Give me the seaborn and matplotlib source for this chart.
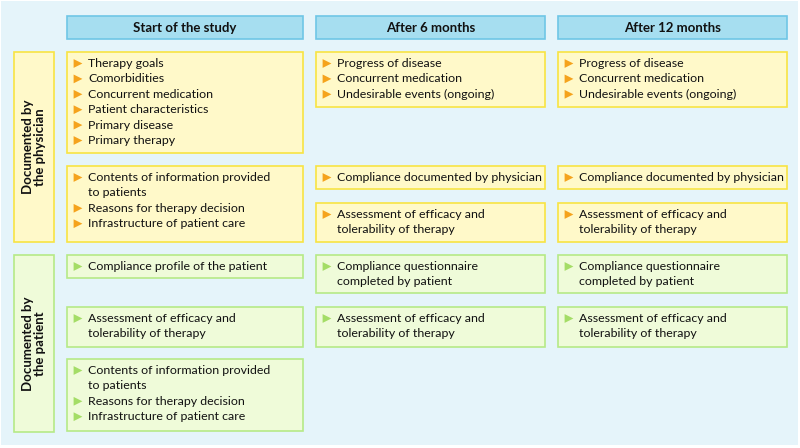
import numpy as np
import pandas as pd
import matplotlib.pyplot as plt
import seaborn as sns
from matplotlib.patches import Rectangle

# Column / row headings
columns = ["Start of the study", "After 6 months", "After 12 months"]
groups = ["Documented by\nthe physician", "Documented by\nthe patient"]

# Cell contents (lines containing "\n" wrap inside one bullet)
phys_start_a = ["Therapy goals", "Comorbidities", "Concurrent medication",
                "Patient characteristics", "Primary disease", "Primary therapy"]
phys_start_b = ["Contents of information provided\nto patients",
                "Reasons for therapy decision", "Infrastructure of patient care"]
phys_follow_a = ["Progress of disease", "Concurrent medication",
                 "Undesirable events (ongoing)"]
phys_follow_b = ["Compliance documented by physician"]
phys_follow_c = ["Assessment of efficacy and\ntolerability of therapy"]
pat_start_a = ["Compliance profile of the patient"]
pat_start_b = ["Assessment of efficacy and\ntolerability of therapy"]
pat_start_c = ["Contents of information provided\nto patients",
               "Reasons for therapy decision", "Infrastructure of patient care"]
pat_follow_a = ["Compliance questionnaire\ncompleted by patient"]
pat_follow_b = ["Assessment of efficacy and\ntolerability of therapy"]

# colours
bg = "#e5f4fa"
head_fill, head_edge = "#a6def0", "#6fc6e6"
yel_fill, yel_edge, yel_bullet = "#fff9c9", "#f8e443", "#f5a31c"
grn_fill, grn_edge, grn_bullet = "#effbd9", "#b6ea87", "#a4dd66"

# layout in pixels (x0, x1) per column, (y0, y1) per box
col_x = [(67, 303), (316, 545), (558, 787)]
boxes = [
    # col, y0, y1, items, group
    (0, 52, 153, phys_start_a, 0),
    (0, 166, 242, phys_start_b, 0),
    (1, 52, 107, phys_follow_a, 0),
    (2, 52, 107, phys_follow_a, 0),
    (1, 166, 189, phys_follow_b, 0),
    (2, 166, 189, phys_follow_b, 0),
    (1, 203, 242, phys_follow_c, 0),
    (2, 203, 242, phys_follow_c, 0),
    (0, 255, 278, pat_start_a, 1),
    (0, 307, 347, pat_start_b, 1),
    (0, 359, 431, pat_start_c, 1),
    (1, 255, 293, pat_follow_a, 1),
    (2, 255, 293, pat_follow_a, 1),
    (1, 307, 347, pat_follow_b, 1),
    (2, 307, 347, pat_follow_b, 1),
]
group_y = [(52, 242), (255, 432)]
fills = [(yel_fill, yel_edge, yel_bullet), (grn_fill, grn_edge, grn_bullet)]

sns.set_style("white")
plt.rcParams['font.family'] = ['Lato', 'DejaVu Sans']

fig = plt.figure(figsize=(8, 4.48), dpi=100)
ax = fig.add_axes([0, 0, 1, 1])
ax.set_xlim(0, 800)
ax.set_ylim(448, 0)
ax.axis("off")

ax.add_patch(Rectangle((1, 1), 797, 444, facecolor=bg, edgecolor="none"))

# column headers
for (x0, x1), name in zip(col_x, columns):
    ax.add_patch(Rectangle((x0, 16), x1 - x0, 23, facecolor=head_fill,
                           edgecolor=head_edge, lw=1.2))
    ax.text((x0 + x1) / 2, 27.5, name, ha="center", va="center",
            fontsize=9.5, fontweight="bold", color="#111111")

# group labels
for (y0, y1), name, (f, e, _) in zip(group_y, groups, fills):
    ax.add_patch(Rectangle((14, y0), 40, y1 - y0, facecolor=f, edgecolor=e, lw=1.2))
    ax.text(34, (y0 + y1) / 2, name, ha="center", va="center", rotation=90,
            fontsize=9.5, fontweight="bold", color="#111111", linespacing=1.1)

# content boxes
bullets = []
line_h = 15.4
for col, y0, y1, items, g in boxes:
    f, e, b = fills[g]
    x0, x1 = col_x[col]
    ax.add_patch(Rectangle((x0, y0), x1 - x0, y1 - y0, facecolor=f, edgecolor=e, lw=1.2))
    y = y0 + 11.5
    for item in items:
        bullets.append({"x": x0 + 11, "y": y, "g": g})
        for line in item.split("\n"):
            ax.text(x0 + 21, y, line, ha="left", va="center", fontsize=8.9,
                    color="#111111")
            y += line_h

bdf = pd.DataFrame(bullets)
sns.scatterplot(data=bdf, x="x", y="y", hue="g", palette=[yel_bullet, grn_bullet],
                marker=">", s=40, linewidth=0, legend=False, ax=ax, zorder=5)

fig.savefig("out.png", dpi=100)
